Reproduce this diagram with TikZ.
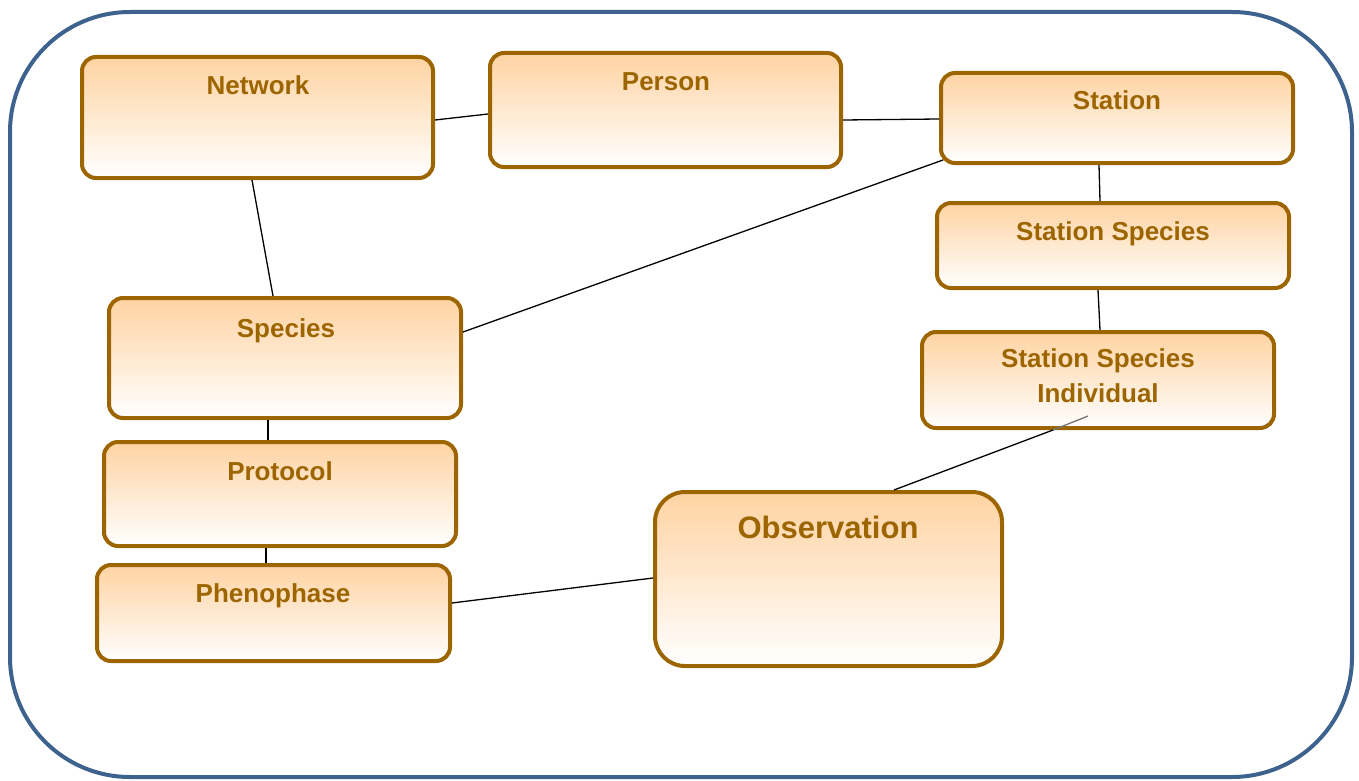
\documentclass[tikz,border=0pt]{standalone}
\usepackage{fontspec}
\setmainfont{Liberation Sans}
\definecolor{boxbrown}{RGB}{156,101,0}
\definecolor{boxtop}{RGB}{255,211,162}
\definecolor{frameblue}{RGB}{62,98,142}
\begin{document}
\begin{tikzpicture}[x=1pt,y=-1pt,
  entity/.style={rectangle, rounded corners=14pt, draw=boxbrown, line width=4pt,
    top color=boxtop, bottom color=white, inner sep=0pt},
  lbl/.style={font=\bfseries\fontsize{26}{30}\selectfont, text=boxbrown, anchor=base, inner sep=0pt},
  conn/.style={line width=1.3pt, black}]
\useasboundingbox (0,0) rectangle (1359,781);
\draw[frameblue, line width=4pt, rounded corners=120pt] (10,12) rectangle (1352,777);

% boxes
\node[entity, minimum width=351pt, minimum height=121pt] (net) at (257.5,117.5) {};
\node[entity, minimum width=351pt, minimum height=114pt] (per) at (665.5,110) {};
\node[entity, minimum width=352pt, minimum height=90pt] (sta) at (1117,118) {};
\node[entity, minimum width=352pt, minimum height=85pt] (ss) at (1113,245.5) {};
\node[entity, minimum width=352pt, minimum height=96pt] (ssi) at (1098,380) {};
\node[entity, minimum width=352pt, minimum height=120pt] (spe) at (285,358) {};
\node[entity, minimum width=352pt, minimum height=104pt] (pro) at (280,494) {};
\node[entity, minimum width=353pt, minimum height=96pt] (phe) at (273.5,613) {};
\node[entity, rounded corners=30pt, minimum width=347pt, minimum height=174pt] (obs) at (828.5,579) {};

% labels
\node[lbl] (netT) at (258,95) {Network};
\node[lbl] (perT) at (666,91) {Person};
\node[lbl] (staT) at (1117,110) {Station};
\node[lbl] (ssT) at (1113,240) {Station Species};
\node[lbl] (ssiT1) at (1098,367) {Station Species};
\node[lbl] (ssiT2) at (1098,402) {Individual};
\node[lbl] (speT) at (286,337) {Species};
\node[lbl] (proT) at (280,480) {Protocol};
\node[lbl] (pheT) at (273,602) {Phenophase};
\node[lbl, font=\bfseries\fontsize{31}{36}\selectfont] (obsT) at (828,538) {Observation};

% connectors
\draw[conn] ([yshift=-2.5pt]net.east) -- ([yshift=-4pt]per.west);
\draw[conn] ([yshift=-10pt]per.east) -- ([yshift=-1pt]sta.west);
\draw[conn] ([xshift=-5.5pt]net.south) -- ([xshift=-12pt]spe.north);
\draw[conn] ([xshift=4pt,yshift=5pt]sta.south west) -- ([yshift=26pt]spe.east);
\draw[conn] ([xshift=-18pt]sta.south) -- ([xshift=-13pt]ss.north);
\draw[conn] ([xshift=-15pt]ss.south) -- ([xshift=2pt]ssi.north);
\draw[conn] ([xshift=-17pt]spe.south) -- ([xshift=-12pt]pro.north);
\draw[conn] ([xshift=-14pt]pro.south) -- ([xshift=-7.5pt]phe.north);
\draw[conn] ([yshift=10pt]phe.east) -- ([yshift=1pt]obs.west);
\coordinate (ssiedge) at ([xshift=-45pt]ssi.south);
\coordinate (ssitip) at ([xshift=-10pt,yshift=14pt]ssi.south);
\draw[conn] ([xshift=65.5pt]obs.north) -- (ssiedge);
\draw[line width=1.3pt, black!55] (ssiedge) -- (ssitip);
\end{tikzpicture}
\end{document}
